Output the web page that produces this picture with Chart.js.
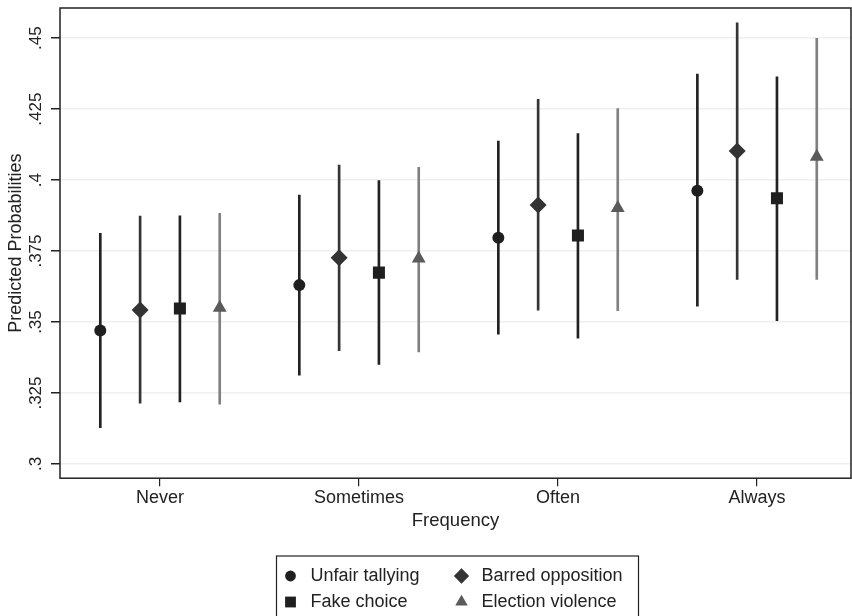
<!DOCTYPE html>
<html>
<head>
<meta charset="utf-8">
<script src="https://cdn.jsdelivr.net/npm/chart.js@4"></script>
<style>
  html, body { margin: 0; padding: 0; background: #fff; overflow: hidden; }
  canvas { display: block; }
</style>
</head>
<body>
<canvas id="myChart" width="852" height="616"></canvas>
<script>
// data
const categories = ['Never', 'Sometimes', 'Often', 'Always'];
const yTicks = [0.3, 0.325, 0.35, 0.375, 0.4, 0.425, 0.45];
const yTickLabels = ['.3', '.325', '.35', '.375', '.4', '.425', '.45'];

const unfair = [0.347, 0.363, 0.3797, 0.3962];
const unfairLo = [0.3128, 0.3313, 0.3457, 0.3556];
const unfairHi = [0.3812, 0.3947, 0.4137, 0.4373];

const barred = [0.3542, 0.3726, 0.3912, 0.4102];
const barredLo = [0.3214, 0.3399, 0.3542, 0.365];
const barredHi = [0.3873, 0.4053, 0.4284, 0.4554];

const fake = [0.3548, 0.3674, 0.3805, 0.3936];
const fakeLo = [0.3219, 0.3351, 0.3443, 0.3505];
const fakeHi = [0.3874, 0.3998, 0.4164, 0.4364];

const violence = [0.355, 0.3724, 0.3902, 0.4082];
const violenceLo = [0.3211, 0.3395, 0.354, 0.365];
const violenceHi = [0.3883, 0.4045, 0.4252, 0.4499];

const FONT = "'Liberation Sans', Arial, sans-serif";

const series = [
    { label: 'Unfair tallying', est: unfair, lo: unfairLo, hi: unfairHi, shift: -0.3, style: 'circle', radius: 6, fill: '#1f1f1f', line: '#222222' },
    { label: 'Barred opposition', est: barred, lo: barredLo, hi: barredHi, shift: -0.1, style: 'rectRot', radius: 8.5, fill: '#333333', line: '#353535' },
    { label: 'Fake choice', est: fake, lo: fakeLo, hi: fakeHi, shift: 0.1, style: 'rect', radius: 8.5, fill: '#1f1f1f', line: '#222222' },
    { label: 'Election violence', est: violence, lo: violenceLo, hi: violenceHi, shift: 0.3, style: 'triangle', radius: 8, fill: '#5a5a5a', line: '#808080' }
];

let datasets = [];
series.forEach(function (s) {
    datasets.push({
        type: 'bar',
        label: s.label + ' CI',
        data: categories.map(function (c, i) { return { x: i + s.shift, y: [s.lo[i], s.hi[i]] }; }),
        backgroundColor: s.line,
        borderWidth: 0,
        barThickness: 2,
        grouped: false,
        order: 2
    });
});
series.forEach(function (s) {
    datasets.push({
        type: 'scatter',
        label: s.label,
        data: categories.map(function (c, i) { return { x: i + s.shift, y: s.est[i] }; }),
        pointStyle: s.style,
        pointRadius: s.radius,
        pointHoverRadius: s.radius,
        backgroundColor: s.fill,
        borderColor: s.fill,
        borderWidth: 0,
        order: 1
    });
});

function drawMarker(ctx, style, x, y, r, color) {
    ctx.save();
    ctx.fillStyle = color;
    ctx.beginPath();
    if (style == 'circle') {
        ctx.arc(x, y, r, 0, Math.PI * 2);
    } else if (style == 'rect') {
        let sz = Math.SQRT1_2 * r;
        ctx.rect(x - sz, y - sz, 2 * sz, 2 * sz);
    } else if (style == 'rectRot') {
        ctx.moveTo(x - r, y);
        ctx.lineTo(x, y - r);
        ctx.lineTo(x + r, y);
        ctx.lineTo(x, y + r);
        ctx.closePath();
    } else {
        let h = r * Math.sqrt(3) / 2;
        ctx.moveTo(x, y - r);
        ctx.lineTo(x + h, y + r / 2);
        ctx.lineTo(x - h, y + r / 2);
        ctx.closePath();
    }
    ctx.fill();
    ctx.restore();
}

const stataLook = {
    id: 'stataLook',
    afterDraw(chart) {
        const ctx = chart.ctx;
        const area = chart.chartArea;
        const yScale = chart.scales.y;

        // frame
        ctx.save();
        ctx.strokeStyle = '#222';
        ctx.lineWidth = 1.5;
        ctx.strokeRect(area.left, area.top, area.right - area.left, area.bottom - area.top);

        // rotated y tick labels
        ctx.fillStyle = '#222';
        ctx.font = '17px ' + FONT;
        ctx.textAlign = 'center';
        ctx.textBaseline = 'middle';
        yTicks.forEach(function (v, i) {
            let py = yScale.getPixelForValue(v);
            ctx.save();
            ctx.translate(36, py);
            ctx.rotate(-Math.PI / 2);
            ctx.fillText(yTickLabels[i], 0, 0);
            ctx.restore();
        });

        // y title
        ctx.save();
        ctx.font = '18px ' + FONT;
        ctx.translate(16, (area.top + area.bottom) / 2);
        ctx.rotate(-Math.PI / 2);
        ctx.fillText('Predicted Probabilities', 0, 0);
        ctx.restore();

        // legend box
        let cx = (area.left + area.right) / 2 + 2;
        let boxL = cx - 181, boxR = cx + 181, boxT = 556;
        ctx.lineWidth = 1.2;
        ctx.strokeRect(boxL, boxT, boxR - boxL, 80);
        ctx.font = '18px ' + FONT;
        ctx.textAlign = 'left';
        let cols = [boxL + 14, boxL + 185];
        let rows = [576, 602];
        series.forEach(function (s, i) {
            let mx = cols[i % 2], my = rows[Math.floor(i / 2)];
            drawMarker(ctx, s.style, mx, my, s.radius * 0.9, s.fill);
            ctx.fillStyle = '#222';
            ctx.fillText(s.label, mx + 20, my);
        });
        ctx.restore();
    }
};

const config = {
    data: { datasets: datasets },
    options: {
        responsive: false,
        animation: false,
        layout: { autoPadding: false, padding: { top: 8, right: 1, bottom: 84, left: 0 } },
        plugins: {
            legend: { display: false },
            tooltip: { enabled: false }
        },
        scales: {
            x: {
                type: 'linear',
                offset: false,
                min: -0.5025,
                max: 3.472,
                afterBuildTicks: function (scale) {
                    scale.ticks = categories.map(function (c, i) { return { value: i }; });
                },
                grid: { offset: false, drawOnChartArea: false, drawTicks: true, tickLength: 8, tickColor: '#222', lineWidth: 1.2 },
                border: { display: false },
                ticks: {
                    color: '#222',
                    font: { family: FONT, size: 18 },
                    padding: 1,
                    maxRotation: 0,
                    callback: function (v) { return categories[v]; }
                },
                title: { display: true, text: 'Frequency', color: '#222', font: { family: FONT, size: 18.5 }, padding: { top: 0, bottom: 0 } }
            },
            y: {
                type: 'linear',
                min: 0.295,
                max: 0.4606,
                afterBuildTicks: function (scale) {
                    scale.ticks = yTicks.map(function (v) { return { value: v }; });
                },
                afterFit: function (scale) { scale.width = 60; },
                grid: { color: '#eef0ee', lineWidth: 1.5, tickLength: 9, tickColor: '#222' },
                border: { display: false },
                ticks: { display: false }
            }
        }
    },
    plugins: [stataLook]
};

let c = document.getElementById('myChart').getContext('2d');
var curchart = new Chart(c, config);
</script>
</body>
</html>
